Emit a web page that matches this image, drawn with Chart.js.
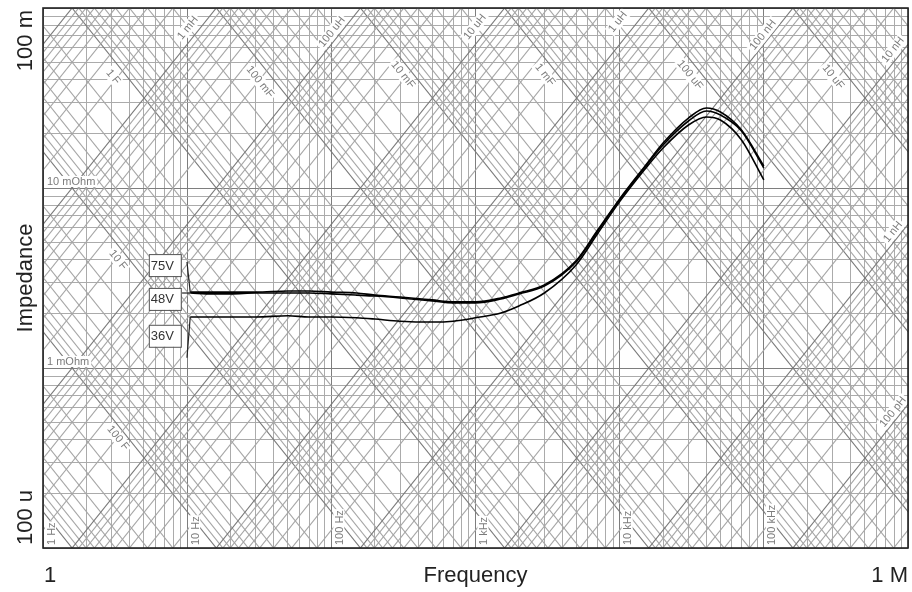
<!DOCTYPE html>
<html>
<head>
<meta charset="utf-8">
<script src="https://cdn.jsdelivr.net/npm/chart.js@4.4.1/dist/chart.umd.min.js"></script>
<style>
  html, body { margin: 0; padding: 0; background: #fff; }
</style>
</head>
<body>
<canvas id="zplot" width="912" height="592"></canvas>
<script>
// measured sweep, frequency in Hz
const freq = [10.5, 15, 20, 30, 50, 70, 100, 150, 200, 300, 500, 700, 1000, 1500, 2000, 3000,
              5000, 7000, 10000, 15000, 20000, 30000, 40000, 50000, 70000, 100000];
// impedance in mOhm
const z75 = [2.64, 2.64, 2.64, 2.64, 2.68, 2.68, 2.64, 2.61, 2.54, 2.48, 2.39, 2.33, 2.33, 2.45, 2.61, 2.89,
             3.95, 5.80, 8.70, 13.25, 17.78, 24.48, 27.83, 26.44, 21.0, 13.25];
const z48 = [2.61, 2.58, 2.58, 2.61, 2.61, 2.61, 2.58, 2.54, 2.51, 2.45, 2.36, 2.30, 2.30, 2.42, 2.58, 2.85,
             3.90, 5.72, 8.60, 13.08, 17.33, 23.56, 26.78, 25.44, 20.73, 12.92];
const z36 = [1.92, 1.92, 1.92, 1.92, 1.95, 1.92, 1.92, 1.90, 1.87, 1.82, 1.80, 1.82, 1.90, 2.02, 2.21, 2.61,
             3.75, 5.55, 8.40, 12.75, 16.68, 22.39, 24.80, 23.86, 18.48, 11.08];

// curve tags: box centre and where the leader ends (Hz / Ohm)
const voltLabels = ['75V', '48V', '36V'];
const voltBoxFreq = [7.0, 7.0, 7.0];
const voltBoxZ = [0.00373, 0.00242, 0.00151];
const leaderFreq = [9.97, 9.22, 9.97];
const leaderZ = [0.00388, 0.00261, 0.00114];

// grid of the nomograph
const steps = [1, 2, 3, 4, 5, 6, 7, 8, 9];
const freqDecades = [1, 10, 100, 1e3, 1e4, 1e5];
const zDecades = [1e-4, 1e-3, 1e-2];
const capDecades = [1e-6, 1e-5, 1e-4, 1e-3, 1e-2, 1e-1, 1, 10, 100, 1000];
const indDecades = [1e-11, 1e-10, 1e-9, 1e-8, 1e-7, 1e-6, 1e-5, 1e-4, 1e-3, 1e-2];

const freqLabels = ['1 Hz', '10 Hz', '100 Hz', '1 kHz', '10 kHz', '100 kHz'];
const ohmLabels = ['10 mOhm', '1 mOhm'];
const ohmLabelZ = [0.01, 0.001];
const capLabels = ['1 F', '100 mF', '10 mF', '1 mF', '100 uF', '10 uF', '10 F', '100 F'];
const capLabelFreq = [3.06, 32.0, 314, 3030, 30700, 302000, 3.31, 3.31];
const capLabelZ = [0.0414, 0.0388, 0.0425, 0.0425, 0.0425, 0.0414, 0.00398, 0.000408];
const indLabels = ['1 mH', '100 uH', '10 uH', '1 uH', '100 nH', '10 nH', '1 nH', '100 pH'];
const indLabelFreq = [10.1, 101, 992, 9730, 98700, 787000, 787000, 787000];
const indLabelZ = [0.0774, 0.0735, 0.0784, 0.0836, 0.0708, 0.0585, 0.0057, 0.00057];

const xTicks = freqDecades.flatMap(d => steps.map(k => d * k)).concat([1e6]);
const yTicks = zDecades.flatMap(d => steps.map(k => d * k)).concat([0.1]);

const isDecade = v => Math.abs(Math.log10(v) - Math.round(Math.log10(v))) < 1e-9;
const gridColor = c => (c.tick && isDecade(c.tick.value)) ? '#7e7e7e' : '#ababab';
const W = 2 * Math.PI;

function tag(ctx, text, px, py, angle) {
  ctx.save();
  ctx.translate(px, py);
  ctx.rotate(angle);
  const w = ctx.measureText(text).width;
  ctx.fillStyle = '#fff';
  ctx.fillRect(-w / 2 - 2, -6, w + 4, 12);
  ctx.fillStyle = '#7c7c7c';
  ctx.textAlign = 'center';
  ctx.textBaseline = 'middle';
  ctx.fillText(text, 0, 0);
  ctx.restore();
}

const nomogram = {
  id: 'nomogram',
  beforeDatasetsDraw(chart) {
    const { ctx, chartArea: a, scales: { x, y } } = chart;
    ctx.save();
    ctx.beginPath();
    ctx.rect(a.left, a.top, a.right - a.left, a.bottom - a.top);
    ctx.clip();
    ctx.lineWidth = 1.1;
    const fa = 0.5, fb = 2e6;
    // capacitor lines, Z = 1 / (2 pi f C)
    capDecades.forEach(d => steps.forEach(k => {
      const c = d * k;
      ctx.strokeStyle = k === 1 ? '#7a7a7a' : '#a6a6a6';
      ctx.beginPath();
      ctx.moveTo(x.getPixelForValue(fa), y.getPixelForValue(1 / (W * fa * c)));
      ctx.lineTo(x.getPixelForValue(fb), y.getPixelForValue(1 / (W * fb * c)));
      ctx.stroke();
    }));
    // inductor lines, Z = 2 pi f L
    indDecades.forEach(d => steps.forEach(k => {
      const l = d * k;
      ctx.strokeStyle = k === 1 ? '#7a7a7a' : '#a6a6a6';
      ctx.beginPath();
      ctx.moveTo(x.getPixelForValue(fa), y.getPixelForValue(W * fa * l));
      ctx.lineTo(x.getPixelForValue(fb), y.getPixelForValue(W * fb * l));
      ctx.stroke();
    }));

    const dx = x.getPixelForValue(10) - x.getPixelForValue(1);
    const dy = y.getPixelForValue(0.001) - y.getPixelForValue(0.01);
    const angC = Math.atan2(dy, dx);
    ctx.font = '11px "Liberation Sans", Arial, sans-serif';
    capLabels.forEach((t, i) => tag(ctx, t, x.getPixelForValue(capLabelFreq[i]), y.getPixelForValue(capLabelZ[i]), angC));
    indLabels.forEach((t, i) => tag(ctx, t, x.getPixelForValue(indLabelFreq[i]), y.getPixelForValue(indLabelZ[i]), -angC));

    // decade labels of frequency, vertical
    freqLabels.forEach((t, i) => {
      const px = x.getPixelForValue(freqDecades[i]);
      ctx.save();
      ctx.translate(px + 2, a.bottom - 3);
      ctx.rotate(-Math.PI / 2);
      const w = ctx.measureText(t).width;
      ctx.fillStyle = '#fff';
      ctx.fillRect(-1, 0, w + 2, 11);
      ctx.fillStyle = '#7c7c7c';
      ctx.textAlign = 'left';
      ctx.textBaseline = 'top';
      ctx.fillText(t, 0, 1);
      ctx.restore();
    });
    // decade labels of impedance
    ohmLabels.forEach((t, i) => {
      const py = y.getPixelForValue(ohmLabelZ[i]);
      const w = ctx.measureText(t).width;
      ctx.fillStyle = '#fff';
      ctx.fillRect(a.left + 3, py - 12, w + 3, 11);
      ctx.fillStyle = '#7c7c7c';
      ctx.textAlign = 'left';
      ctx.textBaseline = 'bottom';
      ctx.fillText(t, a.left + 4, py - 1);
    });
    ctx.restore();
  },
  afterDraw(chart) {
    const { ctx, chartArea: a, scales: { x, y } } = chart;
    ctx.save();
    // leaders and tags of the three curves
    const starts = [z75[0], z48[0], z36[0]];
    ctx.strokeStyle = '#222';
    ctx.lineWidth = 1.2;
    voltLabels.forEach((t, i) => {
      ctx.beginPath();
      ctx.moveTo(x.getPixelForValue(freq[0]), y.getPixelForValue(starts[i] / 1000));
      ctx.lineTo(x.getPixelForValue(leaderFreq[i]), y.getPixelForValue(leaderZ[i]));
      ctx.stroke();
    });
    ctx.font = '13px "Liberation Sans", Arial, sans-serif';
    voltLabels.forEach((t, i) => {
      const cx = x.getPixelForValue(voltBoxFreq[i]);
      const cy = y.getPixelForValue(voltBoxZ[i]);
      ctx.fillStyle = '#fff';
      ctx.fillRect(cx - 16, cy - 11, 32, 22);
      ctx.strokeStyle = '#555';
      ctx.lineWidth = 1;
      ctx.strokeRect(cx - 16 + 0.5, cy - 11 + 0.5, 32, 22);
      ctx.fillStyle = '#333';
      ctx.textAlign = 'left';
      ctx.textBaseline = 'middle';
      ctx.fillText(t, cx - 14, cy + 1);
    });

    // frame
    ctx.strokeStyle = '#222';
    ctx.lineWidth = 1.6;
    ctx.strokeRect(a.left, a.top, a.right - a.left, a.bottom - a.top);

    // axis texts
    ctx.fillStyle = '#222';
    ctx.font = '22px "Liberation Sans", Arial, sans-serif';
    ctx.textBaseline = 'alphabetic';
    ctx.textAlign = 'left';
    ctx.fillText('1', a.left + 1, 582);
    ctx.textAlign = 'right';
    ctx.fillText('1 M', a.right, 582);
    ctx.textAlign = 'center';
    ctx.fillText('Frequency', (a.left + a.right) / 2, 582);

    ctx.translate(32, 0);
    ctx.rotate(-Math.PI / 2);
    ctx.textAlign = 'right';
    ctx.fillText('100 m', -a.top - 2, 0);
    ctx.textAlign = 'left';
    ctx.fillText('100 u', -a.bottom + 3, 0);
    ctx.textAlign = 'center';
    ctx.fillText('Impedance', -(a.top + a.bottom) / 2, 0);
    ctx.restore();
  }
};

const curve = (vals) => freq.map((f, i) => ({ x: f, y: vals[i] / 1000 }));
const curveStyle = { borderColor: '#000', borderWidth: 1.6, pointRadius: 0, cubicInterpolationMode: 'monotone', fill: false };

new Chart(document.getElementById('zplot'), {
  type: 'line',
  data: {
    datasets: [
      Object.assign({ label: '75V', data: curve(z75) }, curveStyle),
      Object.assign({ label: '48V', data: curve(z48) }, curveStyle),
      Object.assign({ label: '36V', data: curve(z36) }, curveStyle)
    ]
  },
  options: {
    responsive: false,
    animation: false,
    layout: { padding: { left: 43, top: 8, right: 4, bottom: 44 } },
    plugins: { legend: { display: false }, tooltip: { enabled: false } },
    scales: {
      x: {
        type: 'logarithmic', min: 1, max: 1e6,
        afterBuildTicks: s => { s.ticks = xTicks.map(v => ({ value: v })); },
        ticks: { display: false },
        grid: { color: gridColor, lineWidth: 1, drawTicks: false },
        border: { display: false }
      },
      y: {
        type: 'logarithmic', min: 1e-4, max: 0.1,
        afterBuildTicks: s => { s.ticks = yTicks.map(v => ({ value: v })); },
        ticks: { display: false },
        grid: { color: gridColor, lineWidth: 1, drawTicks: false },
        border: { display: false }
      }
    }
  },
  plugins: [nomogram]
});
</script>
</body>
</html>
